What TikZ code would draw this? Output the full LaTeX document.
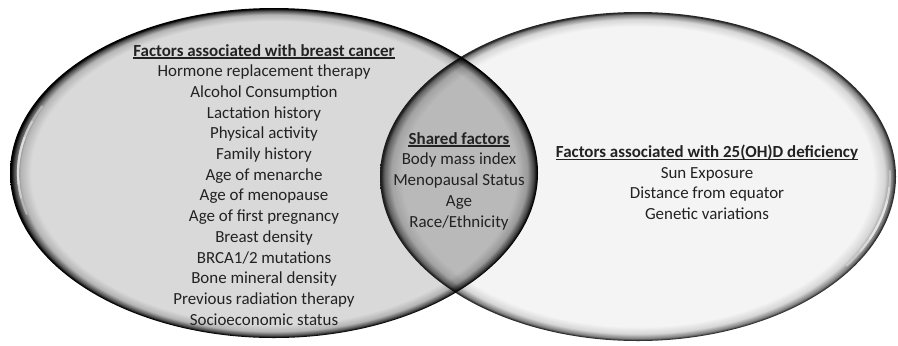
\documentclass[tikz,border=0pt]{standalone}
\usepackage{fontspec}
\setmainfont{Carlito}
\definecolor{txt}{HTML}{222222}
\definecolor{Lc}{HTML}{D9D9D9}
\definecolor{Lb}{HTML}{B4B4B4}
\definecolor{Ld}{HTML}{505050}
\definecolor{Rc}{HTML}{F4F4F4}
\definecolor{Rb}{HTML}{D6D6D6}
\definecolor{Rd}{HTML}{808080}
\pgfdeclareradialshading{leftsh}{\pgfpoint{0bp}{0bp}}{color(0bp)=(Lc); color(23bp)=(Lc); color(24bp)=(Lb); color(24.6bp)=(Ld); color(24.9bp)=(black); color(50bp)=(black)}
\pgfdeclareradialshading{rightsh}{\pgfpoint{0bp}{0bp}}{color(0bp)=(Rc); color(22.8bp)=(Rc); color(23.9bp)=(Rb); color(24.6bp)=(Rd); color(24.9bp)=(black!85); color(50bp)=(black)}
\tikzset{
  line/.style={font=\fontsize{17}{20.7}\selectfont, text=txt, inner sep=0pt, anchor=base},
  head/.style={line, font=\fontsize{17}{20.7}\selectfont\bfseries},
  uline/.style={draw=txt, line width=1.1bp},
  hl/.style={draw=white, line width=2.2bp, line cap=round, opacity=0.35},
}
\begin{document}
\begin{tikzpicture}[x=1bp,y=-1bp]
\useasboundingbox (0,0) rectangle (898,345);
\fill[white] (0,0) rectangle (898,345);
% ellipses
\coordinate (cl) at (274,173);
\coordinate (cr) at (638,176.5);
\shade[shading=leftsh] (cl) ellipse [x radius=264, y radius=165];
\shade[shading=rightsh, blend mode=multiply] (cr) ellipse [x radius=258, y radius=164.5];
\begin{scope}
  \clip (cl) ellipse [x radius=264, y radius=165];
  \fill[black!10, blend mode=multiply] (cr) ellipse [x radius=258, y radius=164.5];
\end{scope}
% highlights
\foreach \a/\b in {165/205, 171/199, 176/193}
  \draw[hl] ([shift={(cl)}]\a:256 and 158) arc[start angle=\a, end angle=\b, x radius=256, y radius=158];
\foreach \a/\b in {-2/34, 4/28, 9/23}
  \draw[hl] ([shift={(cr)}]\a:252 and 159) arc[start angle=\a, end angle=\b, x radius=252, y radius=159];
% left texts
\node[head] (lt) at (264,56) {Factors associated with breast cancer};
\draw[uline] ([yshift=-2]lt.base west) -- ([yshift=-2]lt.base east);
\foreach \t [count=\i] in {Hormone replacement therapy, Alcohol Consumption, Lactation history, Physical activity, Family history, Age of menarche, Age of menopause, Age of first pregnancy, Breast density, BRCA1/2 mutations, Bone mineral density, Previous radiation therapy, Socioeconomic status}
  \node[line] (l\i) at (264,{56+20.7*\i}) {\t};
% shared
\node[head] (st) at (459,144) {Shared factors};
\draw[uline] ([yshift=-2]st.base west) -- ([yshift=-2]st.base east);
\foreach \t [count=\i] in {Body mass index, Menopausal Status, Age, Race/Ethnicity}
  \node[line] (s\i) at (459,{144+20.9*\i}) {\t};
% right
\node[head] (rt) at (707,157.5) {Factors associated with 25(OH)D deficiency};
\draw[uline] ([yshift=-2]rt.base west) -- ([yshift=-2]rt.base east);
\foreach \t [count=\i] in {Sun Exposure, Distance from equator, Genetic variations}
  \node[line] (r\i) at (707,{157.5+20.7*\i}) {\t};
\end{tikzpicture}
\end{document}
